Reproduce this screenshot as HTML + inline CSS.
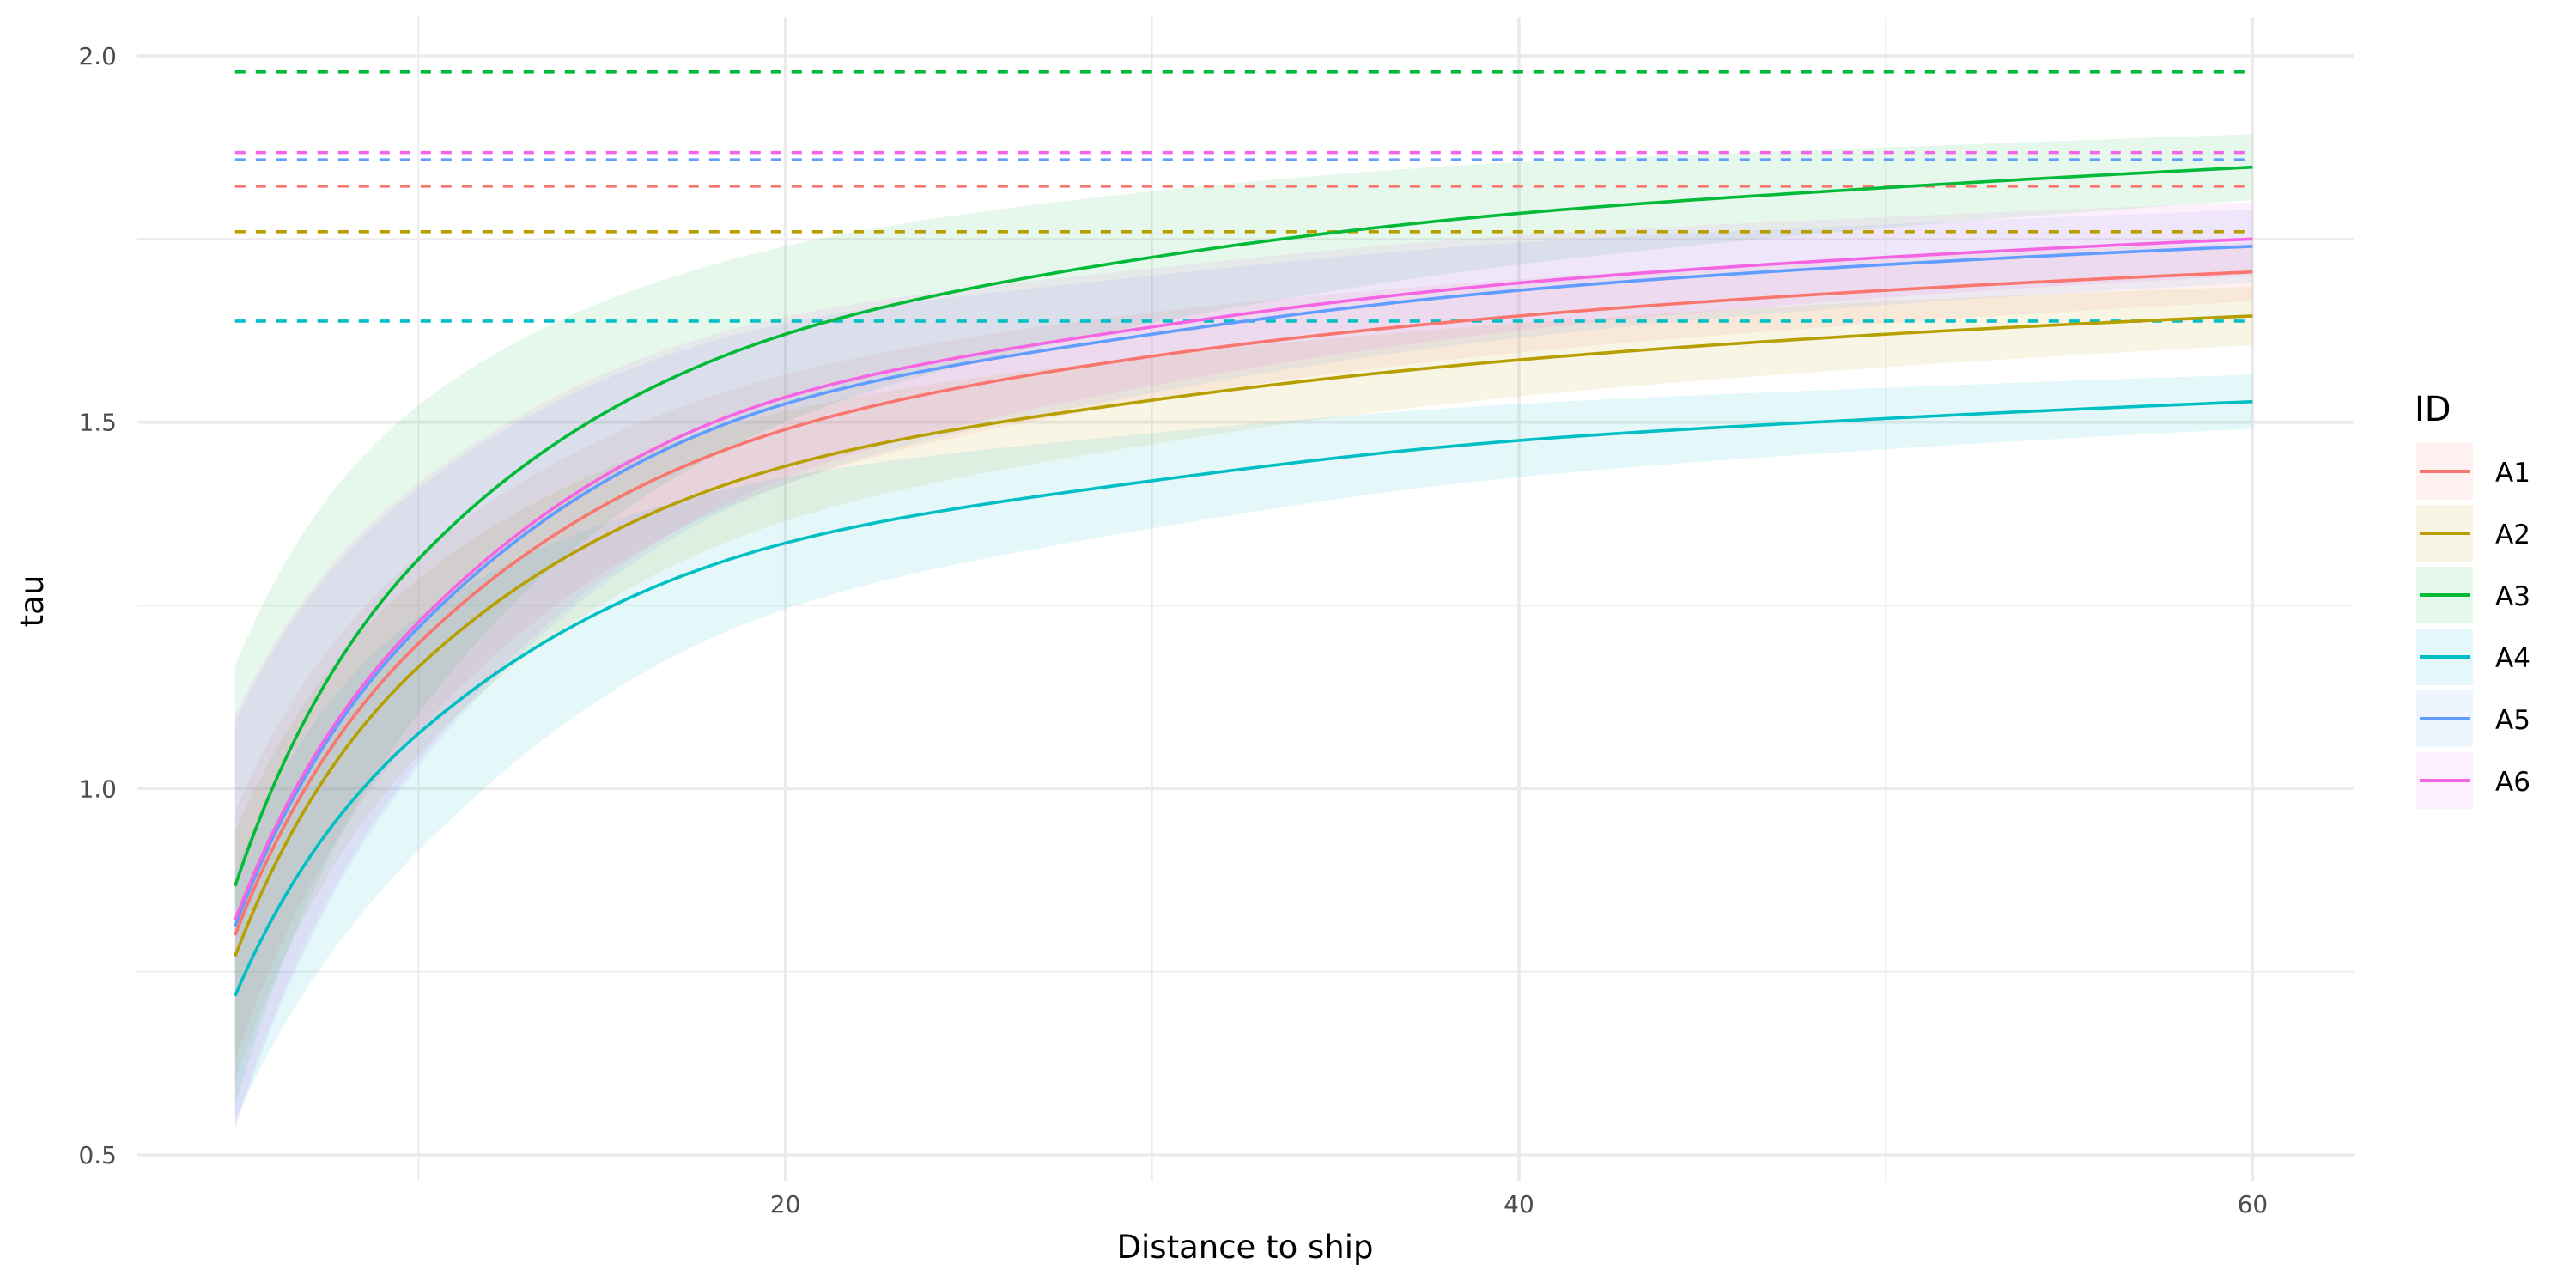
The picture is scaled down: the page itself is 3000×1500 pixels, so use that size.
<!DOCTYPE html>
<html><head><meta charset="utf-8"><style>
body{margin:0;background:#fff}
svg{display:block;font-family:"DejaVu Sans","Liberation Sans",sans-serif}
</style></head><body>
<svg id="chart" width="3000" height="1500" viewBox="0 0 3000 1500" xmlns="http://www.w3.org/2000/svg">
<g id="grid"></g>
<g id="bands"></g>
<g id="dashes"></g>
<g id="lines"></g>
<g id="axes"></g>
<g id="legend"></g>
</svg>
<script>
const ids = ["A1","A2","A3","A4","A5","A6"];
const colors = ["#F8766D","#B79F00","#00BA38","#00BFC4","#619CFF","#F564E3"];
const xs = [5,10,20,30,40,50,60];
const fitA1 = [0.80,1.198,1.49,1.59,1.645,1.68,1.705];
const fitA2 = [0.771,1.166,1.44,1.53,1.585,1.62,1.645];
const fitA3 = [0.867,1.313,1.62,1.725,1.785,1.82,1.848];
const fitA4 = [0.717,1.075,1.335,1.42,1.475,1.505,1.528];
const fitA5 = [0.812,1.22,1.525,1.62,1.68,1.715,1.74];
const fitA6 = [0.82,1.227,1.534,1.63,1.69,1.725,1.75];
const hwA1 = [0.17,0.12,0.075,0.06,0.05,0.045,0.04];
const hwA2 = [0.17,0.12,0.075,0.06,0.05,0.045,0.04];
const hwA3 = [0.30,0.21,0.12,0.09,0.07,0.055,0.045];
const hwA4 = [0.17,0.16,0.09,0.065,0.05,0.042,0.037];
const hwA5 = [0.28,0.19,0.11,0.08,0.065,0.055,0.05];
const hwA6 = [0.28,0.19,0.11,0.08,0.065,0.055,0.05];
const refs = [1.822,1.76,1.978,1.638,1.858,1.868];
const xTicks = [20,40,60];
const xMinor = [10,30,50];
const yTicks = [0.5,1.0,1.5,2.0];
const yTickLabels = ["0.5","1.0","1.5","2.0"];
const yMinor = [0.75,1.25,1.75];

const fits=[fitA1,fitA2,fitA3,fitA4,fitA5,fitA6];
const hws=[hwA1,hwA2,hwA3,hwA4,hwA5,hwA6];
const L=159,R=2742,T=20,B=1375;
const X=v=>914.6+(v-20)*42.72;
const Y=v=>65+(2.0-v)*853.3;
const NS="http://www.w3.org/2000/svg";
function mk(tag,attrs,parent){const e=document.createElementNS(NS,tag);for(const k in attrs)e.setAttribute(k,attrs[k]);parent.appendChild(e);return e;}
// monotone cubic interpolation in log-x space
function mono(xr,y){const x=xr.map(Math.log),n=x.length,h=[],d=[],m=new Array(n);
 for(let i=0;i<n-1;i++){h.push(x[i+1]-x[i]);d.push((y[i+1]-y[i])/h[i]);}
 for(let i=1;i<n-1;i++){if(d[i-1]*d[i]<=0){m[i]=0;continue;}const w1=2*h[i]+h[i-1],w2=h[i]+2*h[i-1];m[i]=(w1+w2)/(w1/d[i-1]+w2/d[i]);}
 m[0]=((2*h[0]+h[1])*d[0]-h[0]*d[1])/(h[0]+h[1]);if(m[0]*d[0]<=0)m[0]=0;else if(Math.abs(m[0])>3*Math.abs(d[0]))m[0]=3*d[0];
 m[n-1]=((2*h[n-2]+h[n-3])*d[n-2]-h[n-2]*d[n-3])/(h[n-2]+h[n-3]);if(m[n-1]*d[n-2]<=0)m[n-1]=0;
 const out=[];
 for(let i=0;i<n-1;i++){for(let k=0;k<60;k++){const t=k/60,t2=t*t,t3=t2*t,hh=h[i];
  out.push([Math.exp(x[i]+t*hh),(2*t3-3*t2+1)*y[i]+(t3-2*t2+t)*hh*m[i]+(-2*t3+3*t2)*y[i+1]+(t3-t2)*hh*m[i+1]]);}}
 out.push([xr[n-1],y[n-1]]);return out;}
const grid=document.getElementById('grid');
xMinor.forEach(v=>{const l=mk('line',{x1:X(v),x2:X(v),y1:T,y2:B,stroke:'#ebebeb','stroke-width':1.8},grid);});
yMinor.forEach(v=>{const l=mk('line',{x1:L,x2:R,y1:Y(v),y2:Y(v),stroke:'#ebebeb','stroke-width':1.8},grid);});
xTicks.forEach(v=>{const l=mk('line',{x1:X(v),x2:X(v),y1:T,y2:B,stroke:'#ebebeb','stroke-width':3.6},grid);});
yTicks.forEach(v=>{const l=mk('line',{x1:L,x2:R,y1:Y(v),y2:Y(v),stroke:'#ebebeb','stroke-width':3.6},grid);});
const bands=document.getElementById('bands'),lines=document.getElementById('lines'),dashes=document.getElementById('dashes');
ids.forEach((id,i)=>{
 const up=mono(xs,fits[i].map((v,j)=>v+hws[i][j])),lo=mono(xs,fits[i].map((v,j)=>v-hws[i][j]));
 const pts=up.map(p=>X(p[0])+','+Y(p[1])).concat(lo.reverse().map(p=>X(p[0])+','+Y(p[1])));
 const b=mk('polygon',{points:pts.join(' '),fill:colors[i],'fill-opacity':0.1},bands);
 
 
 const c=mono(xs,fits[i]);
 const p=mk('polyline',{points:c.map(q=>X(q[0])+','+Y(q[1])).join(' '),fill:'none',stroke:colors[i],'stroke-width':3.6},lines);
 
 
 const d=mk('line',{x1:X(xs[0]),x2:X(xs[xs.length-1]),y1:Y(refs[i]),y2:Y(refs[i]),stroke:colors[i],'stroke-width':3.6,'stroke-dasharray':'12 12'},dashes);
 
 
});
const axes=document.getElementById('axes');
xTicks.forEach(v=>{const t=mk('text',{x:X(v),y:1412,'text-anchor':'middle','font-size':28,fill:'#4d4d4d'},axes);t.textContent=v;});
yTicks.forEach((v,i)=>{const t=mk('text',{x:136,y:Y(v)+10,'text-anchor':'end','font-size':28,fill:'#4d4d4d'},axes);t.textContent=yTickLabels[i];});
let t=mk('text',{x:1450,y:1465,'text-anchor':'middle','font-size':37,fill:'#000'},axes);t.textContent='Distance to ship';
t=mk('text',{x:50,y:700,'text-anchor':'middle','font-size':37,fill:'#000',transform:'rotate(-90 50 700)'},axes);t.textContent='tau';
const lg=document.getElementById('legend');
t=mk('text',{x:2812,y:490,'font-size':40,fill:'#000'},lg);t.textContent='ID';
ids.forEach((id,i)=>{const y0=516+i*72;
 const g=mk('g',{},lg);
 mk('rect',{x:2814,y:y0,width:66,height:66,fill:colors[i],'fill-opacity':0.1},g);
 mk('line',{x1:2818,x2:2876,y1:y0+33,y2:y0+33,stroke:colors[i],'stroke-width':4},g);
 const l=mk('text',{x:2906,y:y0+45,'font-size':31,fill:'#000'},g);l.textContent=id;});
</script>
</body></html>
